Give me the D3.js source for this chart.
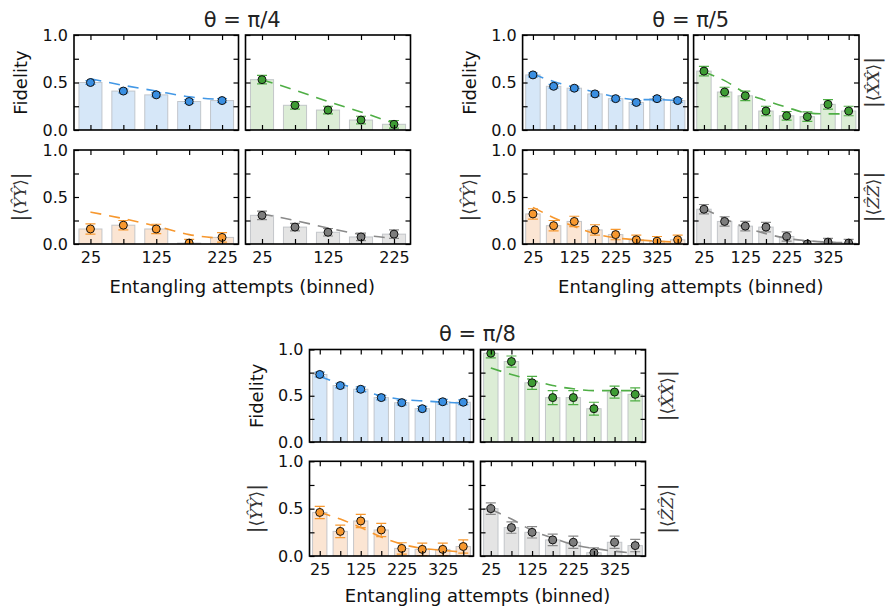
<!DOCTYPE html>
<html><head><meta charset="utf-8">
<script src="https://cdn.jsdelivr.net/npm/d3@7"></script>
<style>
body{margin:0;background:#fff}
svg{display:block}
text{font-family:"DejaVu Sans",sans-serif}
</style>
</head><body>
<svg id="c" width="891" height="614"></svg>
<script>
// ---------------- DATA ----------------
const bins4 = [25, 75, 125, 175, 225];
const bins5 = [25, 75, 125, 175, 225, 275, 325, 375];
const bins8 = [25, 75, 125, 175, 225, 275, 325, 375];
const xTickLabels4 = [25, 125, 225];
const xTickLabels5 = [25, 125, 225, 325];
const yTickValues = [0, 0.25, 0.5, 0.75, 1];
const yTickLabels = [0, 0.5, 1];
const titles = ["θ = π/4", "θ = π/5", "θ = π/8"];
const xAxisLabel = "Entangling attempts (binned)";

// θ = π/4
const fid4 = [0.50, 0.41, 0.37, 0.30, 0.31];
const fid4Err = [0.02, 0.02, 0.02, 0.02, 0.02];
const fid4Fit = [0.54, 0.47, 0.41, 0.35, 0.32];
const xx4 = [0.53, 0.26, 0.21, 0.105, 0.06];
const xx4Err = [0.045, 0.04, 0.04, 0.04, 0.04];
const xx4Fit = [0.53, 0.42, 0.30, 0.19, 0.07];
const yy4 = [0.16, 0.20, 0.16, 0.01, 0.07];
const yy4Err = [0.055, 0.05, 0.05, 0.04, 0.05];
const yy4Fit = [0.34, 0.27, 0.19, 0.10, 0.06];
const zz4 = [0.305, 0.18, 0.125, 0.075, 0.105];
const zz4Err = [0.045, 0.04, 0.04, 0.04, 0.045];
const zz4Fit = [0.32, 0.25, 0.17, 0.10, 0.06];

// θ = π/5
const fid5 = [0.58, 0.46, 0.44, 0.38, 0.33, 0.29, 0.33, 0.31];
const fid5Err = [0.02, 0.02, 0.02, 0.02, 0.02, 0.02, 0.02, 0.02];
const fid5Fit = [0.59, 0.51, 0.45, 0.40, 0.35, 0.32, 0.32, 0.31];
const xx5 = [0.62, 0.40, 0.36, 0.20, 0.15, 0.14, 0.27, 0.20];
const xx5Err = [0.05, 0.05, 0.05, 0.05, 0.045, 0.05, 0.05, 0.05];
const xx5Fit = [0.61, 0.52, 0.39, 0.31, 0.24, 0.18, 0.17, 0.17];
const yy5 = [0.32, 0.195, 0.24, 0.15, 0.10, 0.045, 0.03, 0.045];
const yy5Err = [0.055, 0.055, 0.055, 0.055, 0.055, 0.05, 0.05, 0.05];
const yy5Fit = [0.39, 0.28, 0.185, 0.11, 0.065, 0.045, 0.03, 0.02];
const zz5 = [0.37, 0.24, 0.19, 0.18, 0.08, 0.0, 0.02, 0.01];
const zz5Err = [0.05, 0.05, 0.05, 0.05, 0.05, 0.03, 0.04, 0.04];
const zz5Fit = [0.375, 0.27, 0.175, 0.11, 0.06, 0.035, 0.02, 0.015];

// θ = π/8
const fid8 = [0.73, 0.61, 0.57, 0.48, 0.425, 0.36, 0.435, 0.43];
const fid8Err = [0.025, 0.025, 0.025, 0.025, 0.025, 0.025, 0.025, 0.025];
const fid8Fit = [0.71, 0.63, 0.56, 0.50, 0.46, 0.445, 0.43, 0.42];
const xx8 = [0.96, 0.87, 0.64, 0.48, 0.48, 0.36, 0.54, 0.515];
const xx8Err = [0.05, 0.06, 0.07, 0.075, 0.075, 0.07, 0.065, 0.07];
const xx8Fit = [0.80, 0.73, 0.67, 0.61, 0.575, 0.555, 0.555, 0.555];
const yy8 = [0.46, 0.26, 0.37, 0.275, 0.08, 0.07, 0.07, 0.10];
const yy8Err = [0.065, 0.065, 0.07, 0.07, 0.06, 0.065, 0.065, 0.07];
const yy8Fit = [0.46, 0.39, 0.30, 0.20, 0.125, 0.08, 0.06, 0.04];
const zz8 = [0.50, 0.30, 0.25, 0.17, 0.145, 0.035, 0.145, 0.11];
const zz8Err = [0.06, 0.06, 0.06, 0.06, 0.065, 0.05, 0.065, 0.065];
const zz8Fit = [0.49, 0.39, 0.27, 0.19, 0.12, 0.08, 0.05, 0.03];

// ---------------- STYLE ----------------
const palette = {
  blue:   {bar: "#d6e7f8", pt: "#3a8fe2", line: "#4398e6"},
  green:  {bar: "#dcedd6", pt: "#3e9c34", line: "#4fae45"},
  orange: {bar: "#fbe5d3", pt: "#f7982f", line: "#f7982f"},
  grey:   {bar: "#e4e4e4", pt: "#7d7d7d", line: "#8a8a8a"}
};

const svg = d3.select("#c");
const defs = svg.append("defs");

// layout of the three groups
const layout = [
  {L: [74, 238.5],  R: [245.5, 410.5], top: [35, 130],   bot: [150, 244],  dmax: 250, bins: bins4, xl: xTickLabels4,
   data: [[fid4, fid4Err, fid4Fit], [xx4, xx4Err, xx4Fit], [yy4, yy4Err, yy4Fit], [zz4, zz4Err, zz4Fit]],
   title: titles[0], titleY: 27, xlabY: 293, rightLabX: null},
  {L: [522.6, 688], R: [693.6, 859],   top: [35, 130],   bot: [150, 244],  dmax: 400, bins: bins5, xl: xTickLabels5,
   data: [[fid5, fid5Err, fid5Fit], [xx5, xx5Err, xx5Fit], [yy5, yy5Err, yy5Fit], [zz5, zz5Err, zz5Fit]],
   title: titles[1], titleY: 27, xlabY: 293, rightLabX: 879},
  {L: [309.5, 473.5], R: [480.5, 645.5], top: [349.5, 442], bot: [461.3, 556], dmax: 400, bins: bins8, xl: xTickLabels5,
   data: [[fid8, fid8Err, fid8Fit], [xx8, xx8Err, xx8Fit], [yy8, yy8Err, yy8Fit], [zz8, zz8Err, zz8Fit]],
   title: titles[2], titleY: 341, xlabY: 602, rightLabX: 673}
];
const colorsOrder = ["blue", "green", "orange", "grey"];

let clipN = 0;
function drawPanel(xr, yr, dmax, bins, xl, series, col, showY, showX) {
  const x = d3.scaleLinear().domain([0, dmax]).range(xr);
  const y = d3.scaleLinear().domain([0, 1]).range([yr[1], yr[0]]);
  const [vals, errs, fit] = series;
  const pc = palette[col];
  const id = "clip" + (clipN++);
  defs.append("clipPath").attr("id", id).append("rect")
    .attr("x", xr[0]).attr("y", yr[0]).attr("width", xr[1] - xr[0]).attr("height", yr[1] - yr[0]);
  const g = svg.append("g");
  const dg = g.append("g").attr("clip-path", `url(#${id})`);
  const bw = x(35) - x(0);
  dg.selectAll("rect.bar").data(bins).join("rect").attr("class", "bar")
    .attr("x", d => x(d) - bw / 2).attr("width", bw)
    .attr("y", (d, i) => y(vals[i])).attr("height", (d, i) => y(0) - y(vals[i]))
    .attr("fill", pc.bar).attr("stroke", "#b8bcc0").attr("stroke-width", 1).attr("stroke-opacity", 0.8);
  const line = d3.line().x((d, i) => x(bins[i])).y(d => y(d)).curve(d3.curveMonotoneX);
  dg.append("path").attr("d", line(fit)).attr("fill", "none")
    .attr("stroke", pc.line).attr("stroke-width", 1.6).attr("stroke-dasharray", "11,8");
  const eg = dg.append("g").attr("stroke", pc.line).attr("stroke-width", 1.2);
  bins.forEach((b, i) => {
    const cx = x(b), ylo = y(vals[i] - errs[i]), yhi = y(vals[i] + errs[i]);
    eg.append("line").attr("x1", cx).attr("x2", cx).attr("y1", ylo).attr("y2", yhi);
    eg.append("line").attr("x1", cx - 5).attr("x2", cx + 5).attr("y1", ylo).attr("y2", ylo);
    eg.append("line").attr("x1", cx - 5).attr("x2", cx + 5).attr("y1", yhi).attr("y2", yhi);
  });
  dg.selectAll("circle").data(bins).join("circle")
    .attr("cx", d => x(d)).attr("cy", (d, i) => y(vals[i])).attr("r", 4)
    .attr("fill", pc.pt).attr("stroke", "#111").attr("stroke-width", 1);

  const fmtY = d => (showY && yTickLabels.includes(d)) ? d3.format(".1f")(d) : "";
  const fmtX = d => (showX && xl.includes(d)) ? String(d) : "";
  const axes = [
    g.append("g").attr("transform", `translate(${xr[0]},0)`).call(d3.axisLeft(y).tickValues(yTickValues).tickSize(-5).tickPadding(6).tickFormat(fmtY)),
    g.append("g").attr("transform", `translate(${xr[1]},0)`).call(d3.axisRight(y).tickValues(yTickValues).tickSize(-5).tickFormat(() => "")),
    g.append("g").attr("transform", `translate(0,${yr[0]})`).call(d3.axisTop(x).tickValues(bins).tickSize(-5).tickFormat(() => "")),
    g.append("g").attr("transform", `translate(0,${yr[1]})`).call(d3.axisBottom(x).tickValues(bins).tickSize(-5).tickPadding(8).tickFormat(fmtX))
  ];
  axes.forEach(a => {
    a.select(".domain").remove();
    a.selectAll("line").attr("stroke", "#000").attr("stroke-width", 1.2);
    a.selectAll("text").attr("font-size", 16).attr("font-family", "DejaVu Sans").attr("fill", "#111");
  });
  g.append("rect").attr("x", xr[0]).attr("y", yr[0]).attr("width", xr[1] - xr[0]).attr("height", yr[1] - yr[0])
    .attr("fill", "none").attr("stroke", "#000").attr("stroke-width", 1.6);
}

function mathLabel(x, y, letter) {
  const t = svg.append("text").attr("transform", `translate(${x},${y}) rotate(-90)`)
    .attr("text-anchor", "middle").attr("fill", "#333")
    .style("font-family", "DejaVu Serif").style("font-size", "17px");
  t.append("tspan").style("font-size", "20px").text("|");
  t.append("tspan").style("font-family", "DejaVu Sans").text("⟨");
  t.append("tspan").style("font-style", "italic").text(letter + "\u0302" + letter + "\u0302");
  t.append("tspan").style("font-family", "DejaVu Sans").text("⟩");
  t.append("tspan").style("font-size", "20px").text("|");
}

layout.forEach(G => {
  const quad = [[G.L, G.top, true, false], [G.R, G.top, false, false], [G.L, G.bot, true, true], [G.R, G.bot, false, true]];
  quad.forEach((q, k) => drawPanel(q[0], q[1], G.dmax, G.bins, G.xl, G.data[k], colorsOrder[k], q[2], q[3]));
  const cx = (G.L[0] + G.R[1]) / 2;
  svg.append("text").attr("x", cx).attr("y", G.titleY).attr("text-anchor", "middle")
    .attr("font-size", 21).attr("fill", "#222").text(G.title);
  svg.append("text").attr("x", cx).attr("y", G.xlabY).attr("text-anchor", "middle")
    .attr("font-size", 18).attr("fill", "#111").text(xAxisLabel);
  const ylx = G.L[0] - 47;
  svg.append("text").attr("transform", `translate(${ylx},${(G.top[0] + G.top[1]) / 2}) rotate(-90)`)
    .attr("text-anchor", "middle").attr("font-size", 18).attr("fill", "#111").text("Fidelity");
  mathLabel(ylx - 1, (G.bot[0] + G.bot[1]) / 2, "Y");
  if (G.rightLabX) {
    mathLabel(G.rightLabX, (G.top[0] + G.top[1]) / 2, "X");
    mathLabel(G.rightLabX, (G.bot[0] + G.bot[1]) / 2, "Z");
  }
});
</script>
</body></html>
